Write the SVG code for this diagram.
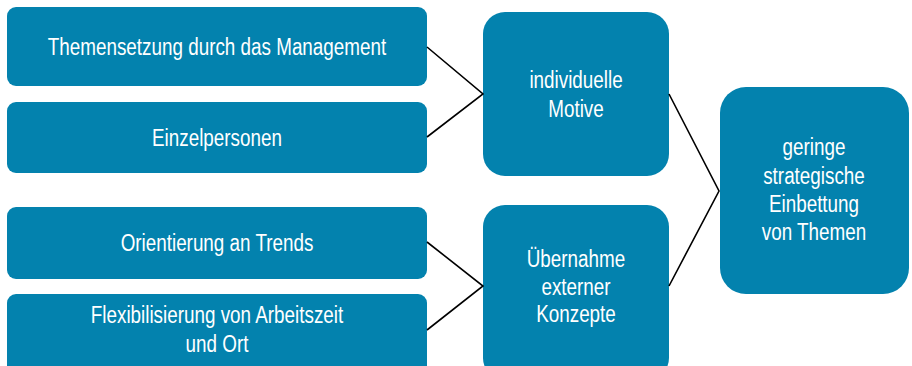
<svg xmlns="http://www.w3.org/2000/svg" width="912" height="366" viewBox="0 0 912 366">
<style>
.box{fill:#0382ae}
.t{font-family:"Liberation Sans",Arial,sans-serif;font-size:23px;fill:#ffffff;text-anchor:middle}
.c{stroke:#000;stroke-width:1.6;fill:none}
</style>
<rect width="912" height="366" fill="#fff"/>
<g id="n1"><rect class="box" x="7" y="7" width="420" height="79" rx="9"/><text class="t" transform="translate(217,55) scale(0.82,1)">Themensetzung durch das Management</text></g>
<g id="n2"><rect class="box" x="7" y="102" width="420" height="71" rx="9"/><text class="t" transform="translate(217,146) scale(0.82,1)">Einzelpersonen</text></g>
<g id="n3"><rect class="box" x="7" y="207" width="420" height="72" rx="9"/><text class="t" transform="translate(217,251) scale(0.82,1)">Orientierung an Trends</text></g>
<g id="n4"><rect class="box" x="7" y="294" width="420" height="80" rx="9"/><text class="t" transform="translate(217,323) scale(0.82,1)">Flexibilisierung von Arbeitszeit</text><text class="t" transform="translate(217,352) scale(0.82,1)">und Ort</text></g>
<g id="n5"><rect class="box" x="483" y="12" width="186" height="164" rx="22"/><text class="t" transform="translate(576,88) scale(0.82,1)">individuelle</text><text class="t" transform="translate(576,117) scale(0.82,1)">Motive</text></g>
<g id="n6"><rect class="box" x="483" y="205" width="186" height="175" rx="22"/><text class="t" transform="translate(576,267) scale(0.82,1)">Übernahme</text><text class="t" transform="translate(576,295) scale(0.82,1)">externer</text><text class="t" transform="translate(576,322) scale(0.82,1)">Konzepte</text></g>
<g id="n7"><rect class="box" x="720" y="87" width="189" height="207" rx="26"/><text class="t" transform="translate(814,155) scale(0.82,1)">geringe</text><text class="t" transform="translate(814,184) scale(0.82,1)">strategische</text><text class="t" transform="translate(814,212) scale(0.82,1)">Einbettung</text><text class="t" transform="translate(814,240) scale(0.82,1)">von Themen</text></g>
<g id="connectors">
<polyline class="c" points="427,47 483,94 427,137"/>
<polyline class="c" points="427,242 483,286 427,330"/>
<polyline class="c" points="669,94 719,191 669,286"/>
</g>
</svg>
